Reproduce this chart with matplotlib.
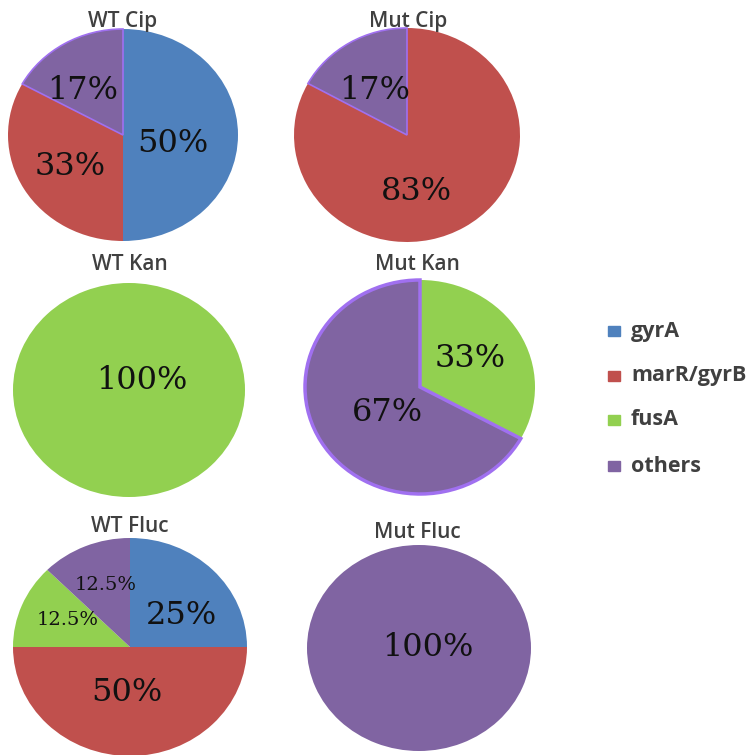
import matplotlib.pyplot as plt

W, H = 756, 755

categories = ['gyrA', 'marR/gyrB', 'fusA', 'others']
colors = ['#4F81BD', '#C0504D', '#92D050', '#8064A2']

panel_titles = ['WT Cip', 'Mut Cip', 'WT Kan', 'Mut Kan', 'WT Fluc', 'Mut Fluc']
wt_cip = [50, 33, 0, 17]
mut_cip = [0, 83, 0, 17]
wt_kan = [0, 0, 100, 0]
mut_kan = [0, 0, 33, 67]
wt_fluc = [25, 50, 12.5, 12.5]
mut_fluc = [0, 0, 0, 100]
panel_values = [wt_cip, mut_cip, wt_kan, mut_kan, wt_fluc, mut_fluc]

# pie boxes in pixels: centre x, centre y (from top), radius x, radius y
boxes = [
    (123, 135, 115, 106),
    (407, 135, 113, 107),
    (129, 390, 116, 107),
    (420, 387, 115, 107),
    (130, 647, 117, 109),
    (419, 648, 112, 103),
]
title_pos = [(123, 21), (408, 21), (130, 265), (417, 264), (130, 527), (417, 533)]
# label anchors in pie radius units, one per non-zero slice
label_pos = [
    [(0.43, -0.08), (-0.46, -0.30), (-0.35, 0.42)],
    [(0.08, -0.53), (-0.29, 0.42)],
    [(0.11, 0.09)],
    [(0.44, 0.27), (-0.28, -0.24)],
    [(0.44, 0.29), (-0.03, -0.42), (-0.53, 0.25), (-0.21, 0.57)],
    [(0.08, 0.0)],
]
# panels whose "others" wedge has the bright outline, with its width
outline = {0: 1.2, 1: 1.2, 3: 2.5}

fig = plt.figure(figsize=(W / 100, H / 100), dpi=100)

for i, vals in enumerate(panel_values):
    cx, cy, rx, ry = boxes[i]
    ax = fig.add_axes([(cx - rx) / W, (H - cy - ry) / H, 2 * rx / W, 2 * ry / H])
    keep = [k for k, v in enumerate(vals) if v > 0]
    sizes = [vals[k] for k in keep]
    wedges, _ = ax.pie(sizes, colors=[colors[k] for k in keep], startangle=90,
                       counterclock=False, radius=1)
    for w, k in zip(wedges, keep):
        if categories[k] == 'others' and i in outline:
            w.set_edgecolor('#A070F0')
            w.set_linewidth(outline[i])
        else:
            w.set_edgecolor('none')
    ax.set_aspect('auto')
    ax.set_xlim(-1, 1)
    ax.set_ylim(-1, 1)
    for (lx, ly), v in zip(label_pos[i], sizes):
        size = 14 if v < 15 else 23
        ax.text(lx, ly, f'{v:g}%', ha='center', va='center', fontsize=size,
                family='DejaVu Serif', color='#111111')
    tx, ty = title_pos[i]
    fig.text(tx / W, 1 - ty / H, panel_titles[i], ha='center', va='center',
             fontsize=15, family='Open Sans', fontweight='semibold', color='#404040')

# legend
leg_y = [331, 376, 420, 466]
for name, c, y in zip(categories, colors, leg_y):
    fig.patches.append(plt.Rectangle((608 / W, 1 - (y + 5) / H), 12 / W, 10 / H,
                                     transform=fig.transFigure, color=c))
    fig.text(631 / W, 1 - y / H, name, ha='left', va='center', fontsize=15.5,
             family='Open Sans', fontweight='bold', color='#404040')

fig.savefig('out.png', dpi=100)
